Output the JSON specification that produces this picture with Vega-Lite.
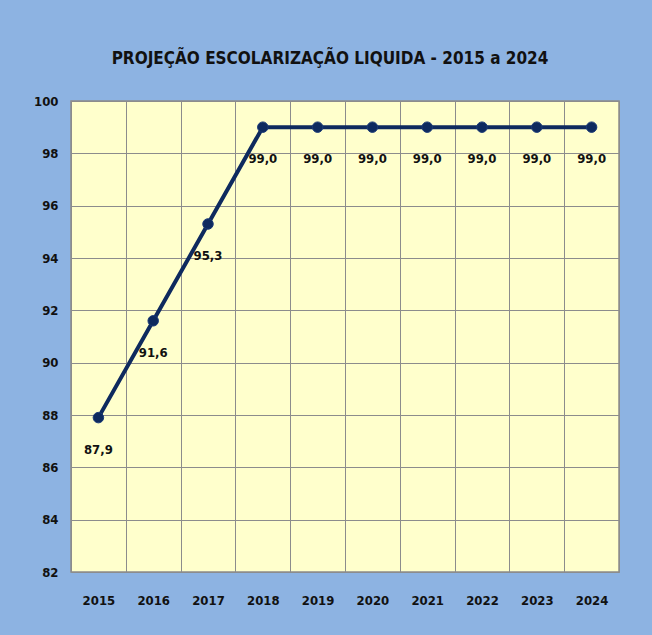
{
  "$schema": "https://vega.github.io/schema/vega-lite/v6.json",
  "autosize": "none",
  "width": 548,
  "height": 471,
  "padding": {"left": 71, "top": 101, "right": 33, "bottom": 63},
  "background": "#8DB3E2",
  "title": {
    "text": "PROJEÇÃO ESCOLARIZAÇÃO LIQUIDA - 2015 a 2024",
    "font": "DejaVu Sans Condensed, Liberation Sans Narrow, sans-serif",
    "fontSize": 17,
    "fontWeight": "bold",
    "color": "#111111",
    "offset": 27,
    "dx": -15
  },
  "config": {
    "view": {"fill": "#FFFFCC", "stroke": "#8C8C8C", "strokeWidth": 1.5},
    "axis": {
      "labelFont": "DejaVu Sans Condensed, Liberation Sans Narrow, sans-serif",
      "labelFontSize": 13,
      "labelFontWeight": "bold",
      "labelColor": "#111111",
      "gridColor": "#8C8C8C",
      "gridOpacity": 1,
      "gridWidth": 1,
      "domain": false,
      "ticks": false,
      "title": null
    }
  },
  "data": {
    "values": [
      {"ano": "2015", "valor": 87.9, "rotulo": "87,9"},
      {"ano": "2016", "valor": 91.6, "rotulo": "91,6"},
      {"ano": "2017", "valor": 95.3, "rotulo": "95,3"},
      {"ano": "2018", "valor": 99.0, "rotulo": "99,0"},
      {"ano": "2019", "valor": 99.0, "rotulo": "99,0"},
      {"ano": "2020", "valor": 99.0, "rotulo": "99,0"},
      {"ano": "2021", "valor": 99.0, "rotulo": "99,0"},
      {"ano": "2022", "valor": 99.0, "rotulo": "99,0"},
      {"ano": "2023", "valor": 99.0, "rotulo": "99,0"},
      {"ano": "2024", "valor": 99.0, "rotulo": "99,0"}
    ]
  },
  "encoding": {
    "x": {
      "field": "ano", "type": "ordinal",
      "scale": {"paddingInner": 0, "paddingOuter": 0},
      "axis": {"grid": true, "tickBand": "extent", "labelPadding": 22, "labelAngle": 0}
    },
    "y": {
      "field": "valor", "type": "quantitative",
      "scale": {"domain": [82, 100], "nice": false, "zero": false},
      "axis": {"values": [82, 84, 86, 88, 90, 92, 94, 96, 98, 100], "grid": true, "labelPadding": 13}
    }
  },
  "layer": [
    {
      "mark": {"type": "line", "color": "#0E2A5E", "strokeWidth": 4}
    },
    {
      "mark": {"type": "point", "filled": true, "size": 110, "color": "#0E2A5E", "opacity": 1, "stroke": "#1A3A78", "strokeWidth": 1}
    },
    {
      "mark": {"type": "text", "dy": 32, "baseline": "middle", "align": "center", "font": "DejaVu Sans Condensed, Liberation Sans Narrow, sans-serif", "fontSize": 13, "fontWeight": "bold", "color": "#111111"},
      "encoding": {
        "text": {"field": "rotulo"}
      }
    }
  ]
}
